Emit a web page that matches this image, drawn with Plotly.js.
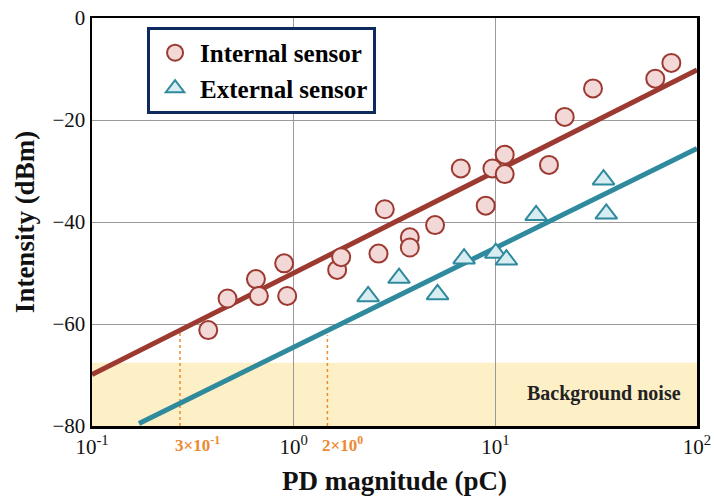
<!DOCTYPE html>
<html>
<head>
<meta charset="utf-8">
<script src="https://cdn.plot.ly/plotly-3.0.1.min.js"></script>
<style>html,body{margin:0;padding:0;background:#fff;}#chart{width:714px;height:496px;}</style>
</head>
<body>
<div id="chart"></div>
<script>
// PD magnitude (pC) and intensity (dBm)
const internalX = [0.377, 0.470, 0.650, 0.672, 0.897, 0.929, 1.643, 1.720, 2.634, 2.831, 3.766, 3.766, 5.025, 6.74, 8.96, 9.67, 11.13, 11.13, 18.45, 22.08, 30.5, 62.1, 74.6];
const internalY = [-61.2, -55.0, -51.2, -54.5, -48.1, -54.5, -49.4, -46.9, -46.2, -37.5, -43.0, -45.0, -40.6, -29.5, -36.8, -29.5, -26.8, -30.6, -28.8, -19.4, -13.8, -11.9, -8.8];
const externalX = [2.34, 3.33, 5.17, 7.00, 10.05, 11.35, 15.93, 34.4, 35.5];
const externalY = [-54.6, -51.0, -54.2, -47.2, -46.1, -47.4, -38.7, -31.7, -38.4];
// fitted lines (end points)
const internalFitX = [0.1, 100];
const internalFitY = [-69.9, -10.2];
const externalFitX = [0.171, 100];
const externalFitY = [-79.5, -25.6];
// threshold markers
const thresholdX = [0.273, 1.47];
const thresholdY = [-61.3, -62.2];
const thresholdLabels = ['3×10<sup>-1</sup>', '2×10<sup>0</sup>'];
const noiseLevel = -67.6;
const xTickVals = [0.1, 1, 10, 100];
const xTickText = ['10<sup>-1</sup>', '10<sup>0</sup>', '10<sup>1</sup>', '10<sup>2</sup>'];
const yTickVals = [0, -20, -40, -60, -80];

const serif = 'Liberation Serif, Times New Roman, serif';
const red = '#9C3A31', redFill = '#F2D8D6';
const teal = '#2F8A9D', tealFill = '#D7EDF2';
const orange = '#EC8A33';

const traces = [];
// threshold dashed lines
thresholdX.forEach((xv, i) => {
  traces.push({x: [xv, xv], y: [-80, thresholdY[i]], mode: 'lines', showlegend: false, hoverinfo: 'skip',
    line: {color: orange, width: 1.5, dash: 'dot'}});
});
traces.push({x: internalFitX, y: internalFitY, mode: 'lines', showlegend: false, line: {color: red, width: 5}});
traces.push({x: externalFitX, y: externalFitY, mode: 'lines', showlegend: false, line: {color: teal, width: 5}});
traces.push({x: internalX, y: internalY, mode: 'markers', name: 'Internal sensor',
  marker: {symbol: 'circle', size: 18, color: redFill, line: {color: red, width: 2}}});
traces.push({x: externalX, y: externalY, mode: 'markers', name: 'External sensor',
  marker: {symbol: 'triangle-up', size: 19, color: tealFill, line: {color: teal, width: 2}}});

const annotations = thresholdX.map((xv, i) => ({
  x: Math.log10(xv), y: -80, xref: 'x', yref: 'y', text: '<b>' + thresholdLabels[i] + '</b>',
  showarrow: false, xanchor: 'left', yanchor: 'top', xshift: -7, yshift: -5,
  font: {family: serif, size: 17, color: orange}
}));
annotations.push({x: 0.977, y: -73.6, xref: 'paper', yref: 'y', text: '<b>Background noise</b>',
  showarrow: false, xanchor: 'right', yanchor: 'middle', font: {family: serif, size: 20, color: '#222'}});

const layout = {
  width: 714, height: 496,
  margin: {l: 92, r: 16.5, t: 18, b: 70.3},
  paper_bgcolor: '#fff', plot_bgcolor: '#fff',
  font: {family: serif, color: '#111'},
  showlegend: true,
  legend: {x: 0.091, y: 0.978, xanchor: 'left', yanchor: 'top', bgcolor: '#fff',
    bordercolor: '#0F2A5E', borderwidth: 3, font: {family: serif, size: 25, color: '#000', weight: 'bold'},
    tracegroupgap: 0, itemwidth: 40},
  xaxis: {type: 'log', range: [-1, 2], tickvals: xTickVals, ticktext: xTickText, ticks: '',
    showgrid: true, gridcolor: '#9a9a9a', gridwidth: 1, zeroline: false,
    showline: true, linecolor: '#000', linewidth: 2.5, mirror: true,
    tickfont: {family: serif, size: 21, color: '#111'},
    title: {text: '<b>PD magnitude (pC)</b>', font: {family: serif, size: 27, color: '#111'}, standoff: 16}},
  yaxis: {range: [-80, 0], tickvals: yTickVals, ticks: '', showgrid: true, gridcolor: '#9a9a9a', gridwidth: 1,
    zeroline: false, showline: true, linecolor: '#000', linewidth: 2.5, mirror: true,
    tickfont: {family: serif, size: 21, color: '#111'},
    title: {text: '<b>Intensity (dBm)</b>', font: {family: serif, size: 27, color: '#111'}, standoff: 10}},
  shapes: [{type: 'rect', xref: 'paper', yref: 'y', x0: 0, x1: 1, y0: -80, y1: noiseLevel,
    fillcolor: '#FDEFC6', line: {width: 0}, layer: 'below'}],
  annotations: annotations
};
Plotly.newPlot('chart', traces, layout, {displayModeBar: false, staticPlot: true});
</script>
</body>
</html>
